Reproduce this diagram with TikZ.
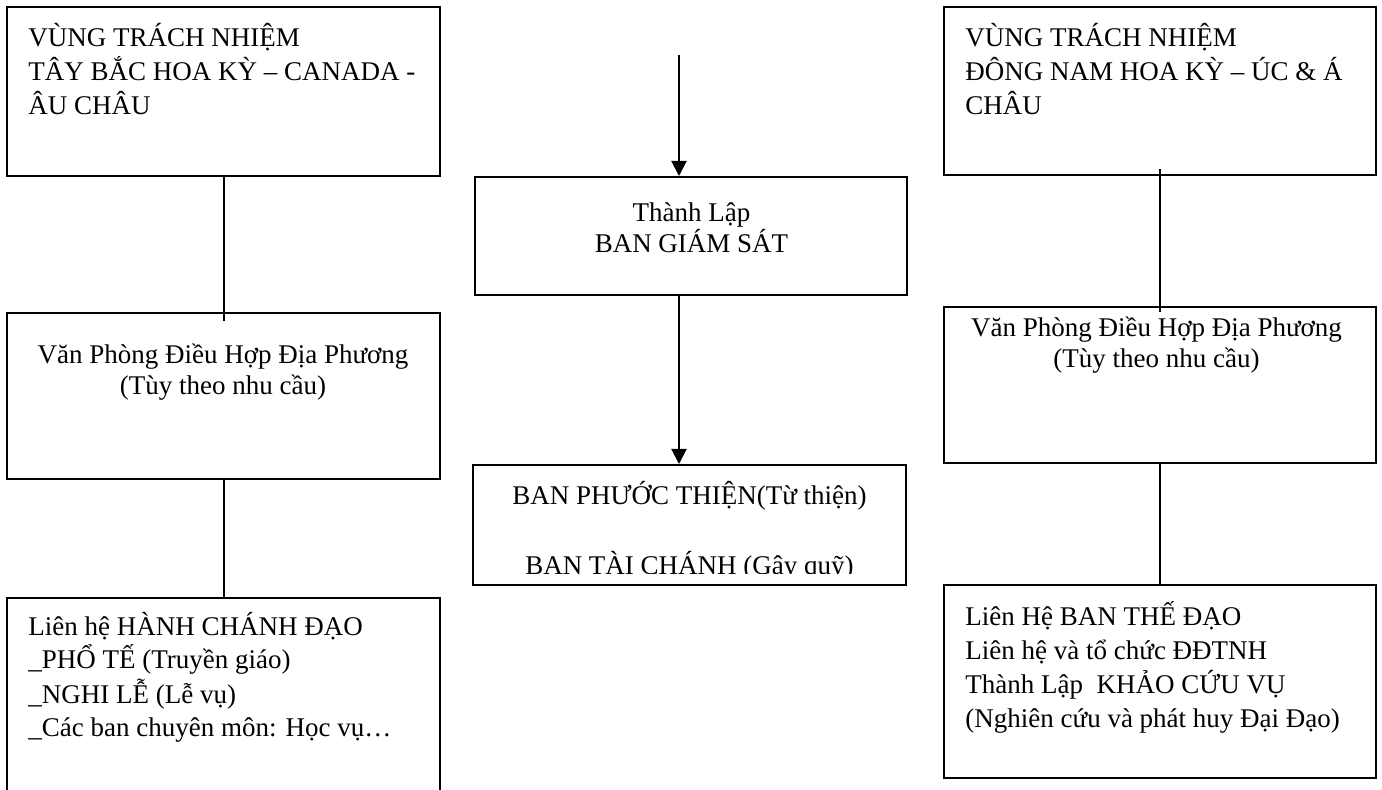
\documentclass[tikz,border=0pt]{standalone}
\usepackage{fontspec}
\setmainfont{Liberation Serif}
\usetikzlibrary{arrows.meta}

\begin{document}
\begin{tikzpicture}[x=1pt, y=-1pt]
    \tikzstyle areabox=[draw, line width=1pt, inner sep=0pt]
    \tikzstyle lefttext=[inner sep=0pt, anchor=base west, align=left, font=\fontsize{13.5}{17}\selectfont]
    \tikzstyle midtext=[inner sep=0pt, anchor=base, align=center, font=\fontsize{13.5}{15.5}\selectfont]
    \tikzstyle link=[line width=1pt]
    \tikzstyle flow=[line width=1pt, -{Triangle[length=7.5pt, width=7.5pt]}]
    \clip (0,0) rectangle (691,395);
    % left column (text nodes sit on their last baseline)
    \node[areabox, minimum width=216.5pt, minimum height=84.5pt] (nwarea) at (111.75,45.75) {};
    \node[lefttext] (nwareatext) at (14,57.5) {VÙNG TRÁCH NHIỆM\\TÂY BẮC HOA KỲ – CANADA -\\ÂU CHÂU};
    \node[areabox, minimum width=216.5pt, minimum height=83pt] (nwoffice) at (111.75,198) {};
    \node[midtext] (nwofficetext) at (111.5,197.5) {Văn Phòng Điều Hợp Địa Phương\\(Tùy theo nhu cầu)};
    \node[areabox, minimum width=216.5pt, minimum height=111pt] (nwlink) at (111.75,354.5) {};
    \node[lefttext] (nwlinktext) at (14,368.5) {Liên hệ HÀNH CHÁNH ĐẠO\\\textunderscore PHỔ TẾ (Truyền giáo)\\\textunderscore NGHI LỄ (Lễ vụ)\\\textunderscore Các ban chuyên môn: Học vụ…};
    \draw[link] (nwarea.south) -- ([yshift=-4.5pt]nwoffice.north);
    \draw[link] (nwoffice.south) -- (nwlink.north);
    % middle column
    \coordinate (feed) at (339.5,27.5);
    \node[areabox, minimum width=216pt, minimum height=59pt] (watch) at (345.5,118) {};
    \node[midtext] (watchtext) at (345.75,126.3) {Thành Lập\\BAN GIÁM SÁT};
    \node[areabox, minimum width=216.5pt, minimum height=60pt] (charity) at (344.75,262.5) {};
    \begin{scope}
      \clip (236.5,232.5) rectangle (453,287);
      \node[midtext] (charitytext) at (344.75,287.5) {BAN PHƯỚC THIỆN(Từ thiện)\\[19.5pt]BAN TÀI CHÁNH (Gây quỹ)};
    \end{scope}
    \draw[flow] (feed) -- (feed |- watch.north);
    \draw[flow] (watch.south -| feed) -- (charity.north -| feed);
    % right column
    \node[areabox, minimum width=216pt, minimum height=84pt] (searea) at (580,45.5) {};
    \node[lefttext] (seareatext) at (482.5,57.3) {VÙNG TRÁCH NHIỆM\\ĐÔNG NAM HOA KỲ – ÚC \& Á\\CHÂU};
    \node[areabox, minimum width=216pt, minimum height=78pt] (seoffice) at (580,192.5) {};
    \node[midtext] (seofficetext) at (578.25,184) {Văn Phòng Điều Hợp Địa Phương\\(Tùy theo nhu cầu)};
    \node[areabox, minimum width=216pt, minimum height=96.5pt] (selink) at (580,340.75) {};
    \node[lefttext] (selinktext) at (482.5,363.5) {Liên Hệ BAN THẾ ĐẠO\\Liên hệ và tổ chức ĐĐTNH\\Thành Lập\ \ KHẢO CỨU VỤ\\(Nghiên cứu và phát huy Đại Đạo)};
    \draw[link] ([yshift=3.5pt]searea.south) -- ([yshift=-3pt]seoffice.north);
    \draw[link] (seoffice.south) -- (selink.north);
\end{tikzpicture}
\end{document}
